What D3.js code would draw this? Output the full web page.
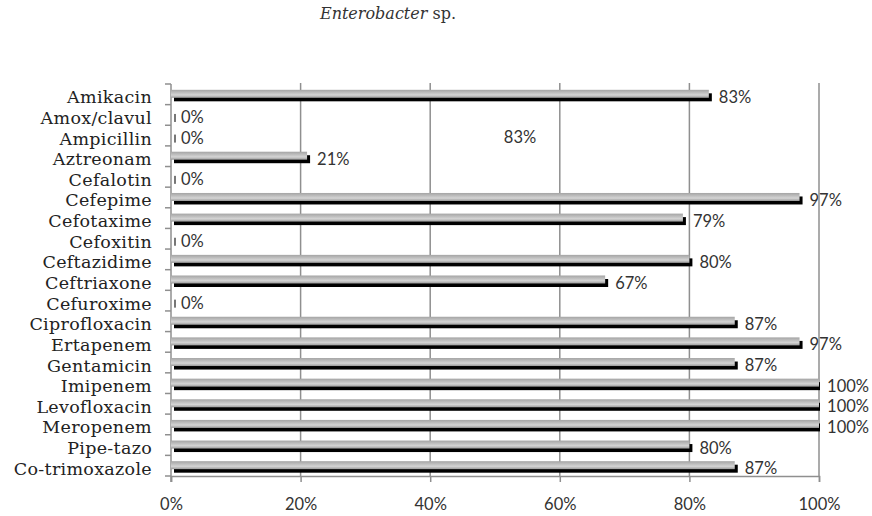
<!DOCTYPE html>
<html>
<head>
<meta charset="utf-8">
<script src="https://cdn.jsdelivr.net/npm/d3@7"></script>
<style>
  html, body { margin: 0; padding: 0; background: #fff; }
  svg { display: block; }
</style>
</head>
<body>
<svg id="chart" width="872" height="516"></svg>
<script>
// Antibiotic susceptibility of Enterobacter sp. isolates (share susceptible)
const drugs = [
  "Amikacin", "Amox/clavul", "Ampicillin", "Aztreonam", "Cefalotin",
  "Cefepime", "Cefotaxime", "Cefoxitin", "Ceftazidime", "Ceftriaxone",
  "Cefuroxime", "Ciprofloxacin", "Ertapenem", "Gentamicin", "Imipenem",
  "Levofloxacin", "Meropenem", "Pipe-tazo", "Co-trimoxazole"
];
const susceptible = [
  0.83, 0, 0, 0.21, 0,
  0.97, 0.79, 0, 0.80, 0.67,
  0, 0.87, 0.97, 0.87, 1.00,
  1.00, 1.00, 0.80, 0.87
];
const xTicks = [0, 0.2, 0.4, 0.6, 0.8, 1.0];
const floatingNote = "83%";

const W = 872, H = 516;
const plot = { left: 171, right: 819, top: 84, bottom: 476 };
const pct = d3.format(".0%");
const axisGrey = "#8f8f8f";
const sans = "Lato, 'Open Sans', sans-serif";

const svg = d3.select("#chart");

const x = d3.scaleLinear().domain([0, 1]).range([plot.left, plot.right]);
const y = d3.scaleBand().domain(drugs).range([plot.top, plot.bottom]).padding(0);
const mid = d => y(d) + y.bandwidth() / 2;

// gradient for the bar faces
const defs = svg.append("defs");
const grad = defs.append("linearGradient")
  .attr("id", "barFace").attr("x1", 0).attr("y1", 0).attr("x2", 0).attr("y2", 1);
grad.append("stop").attr("offset", "0%").attr("stop-color", "#a4a4a4");
grad.append("stop").attr("offset", "65%").attr("stop-color", "#d4d4d4");
grad.append("stop").attr("offset", "100%").attr("stop-color", "#9a9a9a");

defs.append("clipPath").attr("id", "plotClip")
  .append("rect")
  .attr("x", plot.left).attr("y", plot.top - 2)
  .attr("width", plot.right - plot.left + 1).attr("height", plot.bottom - plot.top + 4);

// title
const title = svg.append("text")
  .attr("x", 388).attr("y", 19)
  .attr("text-anchor", "middle")
  .style("font-family", "'DejaVu Serif', serif")
  .style("font-size", "16px")
  .attr("fill", "#333");
title.append("tspan").style("font-style", "italic").text("Enterobacter");
title.append("tspan").text(" sp.");

// vertical gridlines
svg.append("g")
  .selectAll("line")
  .data(xTicks.filter(t => t > 0))
  .join("line")
  .attr("x1", d => x(d)).attr("x2", d => x(d))
  .attr("y1", plot.top - 1).attr("y2", plot.bottom)
  .attr("stroke", axisGrey).attr("stroke-width", 1.5);

// bottom axis
const xAxis = svg.append("g")
  .attr("transform", `translate(0,${plot.bottom})`)
  .call(d3.axisBottom(x).tickValues(xTicks).tickFormat(pct).tickSize(6).tickPadding(16));
xAxis.select(".domain").attr("stroke", axisGrey).attr("stroke-width", 1.5);
xAxis.selectAll(".tick line").attr("stroke", axisGrey).attr("stroke-width", 1.5);
xAxis.selectAll(".tick text")
  .style("font-family", sans)
  .style("font-size", "16.5px")
  .attr("fill", "#333");

// left axis with ticks at band boundaries
const bounds = drugs.map(d => y(d)).concat([plot.bottom]);
const yAxis = svg.append("g");
yAxis.append("line")
  .attr("x1", plot.left).attr("x2", plot.left)
  .attr("y1", plot.top).attr("y2", plot.bottom + 6)
  .attr("stroke", axisGrey).attr("stroke-width", 1.5);
yAxis.selectAll("line.tk")
  .data(bounds)
  .join("line").attr("class", "tk")
  .attr("x1", plot.left - 6).attr("x2", plot.left)
  .attr("y1", d => d).attr("y2", d => d)
  .attr("stroke", axisGrey).attr("stroke-width", 1.5);

// category labels
svg.append("g")
  .selectAll("text")
  .data(drugs)
  .join("text")
  .attr("x", 152)
  .attr("y", d => mid(d) + 9)
  .attr("text-anchor", "end")
  .style("font-family", "'DejaVu Serif', serif")
  .style("font-size", "17.5px")
  .style("letter-spacing", "0.3px")
  .attr("fill", "#222")
  .text(d => d);

// bars: dark shadow behind a shaded face
const rows = drugs.map((d, i) => ({ name: d, v: susceptible[i] }));
const bars = svg.append("g").attr("clip-path", "url(#plotClip)")
  .selectAll("g")
  .data(rows)
  .join("g");

bars.append("rect")
  .attr("x", x(0) + 3)
  .attr("y", d => mid(d.name) - 1)
  .attr("width", d => Math.max(x(d.v) - x(0), 2))
  .attr("height", 8)
  .attr("fill", d => d.v > 0 ? "#000" : "#777");

bars.filter(d => d.v > 0).append("rect")
  .attr("x", x(0))
  .attr("y", d => mid(d.name) - 4.5)
  .attr("width", d => x(d.v) - x(0))
  .attr("height", 8)
  .attr("fill", "url(#barFace)");

// value labels
const labels = svg.append("g")
  .selectAll("text")
  .data(rows)
  .join("text")
  .attr("y", d => mid(d.name) + 8.5)
  .style("font-family", sans)
  .style("font-size", "16.5px")
  .attr("fill", "#333")
  .text(d => pct(d.v));
labels.attr("x", function(d) {
  const w = this.getComputedTextLength();
  return Math.min(x(d.v) + 10, W - 3 - w);
});

// floating note inside the plot
svg.append("text")
  .attr("x", 520).attr("y", 143)
  .attr("text-anchor", "middle")
  .style("font-family", sans)
  .style("font-size", "16.5px")
  .attr("fill", "#333")
  .text(floatingNote);
</script>
</body>
</html>
